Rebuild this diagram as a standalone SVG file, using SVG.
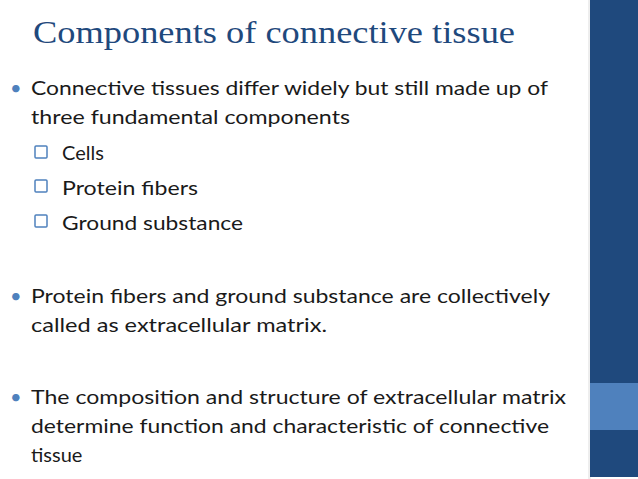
<svg xmlns="http://www.w3.org/2000/svg" width="638" height="479" viewBox="0 0 638 479">
<style>
.t{font-family:Lato,"Open Sans",sans-serif;font-size:20px;fill:#1a1a1a}
.b{font-family:Lato,sans-serif;font-size:20px;fill:#4f81bd}
.cb{fill:#fff;stroke:#4f81bd;stroke-width:1.5}
</style>
<rect width="638" height="479" fill="#fff"/>
<rect x="588" y="0" width="3" height="479" fill="#eeeeee"/>
<rect x="590" y="0" width="48" height="477" fill="#1f497d"/>
<rect x="590" y="383" width="48" height="47" fill="#4f81bd"/>
<text x="33" y="43" font-family="'Liberation Serif',serif" font-size="31" fill="#1f497d" textLength="482" lengthAdjust="spacingAndGlyphs">Components of connective tissue</text>
<text class="b" x="10" y="95">•</text>
<text class="t" x="31" y="95" textLength="517" lengthAdjust="spacingAndGlyphs">Connective tissues differ widely but still made up of</text>
<text class="t" x="31" y="124" textLength="319" lengthAdjust="spacingAndGlyphs">three fundamental components</text>
<g id="cells"><rect class="cb" x="35" y="146" width="12" height="12" rx="1"/><text class="t" x="62" y="160">Cells</text></g>
<g id="fibers"><rect class="cb" x="35" y="180" width="12" height="12" rx="1"/><text class="t" x="62" y="195" textLength="136" lengthAdjust="spacingAndGlyphs">Protein fibers</text></g>
<g id="ground"><rect class="cb" x="35" y="215" width="12" height="12" rx="1"/><text class="t" x="62" y="230" textLength="181" lengthAdjust="spacingAndGlyphs">Ground substance</text></g>
<text class="b" x="10" y="303">•</text>
<text class="t" x="31" y="303" textLength="519" lengthAdjust="spacingAndGlyphs">Protein fibers and ground substance are collectively</text>
<text class="t" x="31" y="332" textLength="296" lengthAdjust="spacingAndGlyphs">called as extracellular matrix.</text>
<text class="b" x="10" y="404">•</text>
<text class="t" x="31" y="404" textLength="535" lengthAdjust="spacingAndGlyphs">The composition and structure of extracellular matrix</text>
<text class="t" x="31" y="433" textLength="518" lengthAdjust="spacingAndGlyphs">determine function and characteristic of connective</text>
<text class="t" x="31" y="462">tissue</text>
</svg>
